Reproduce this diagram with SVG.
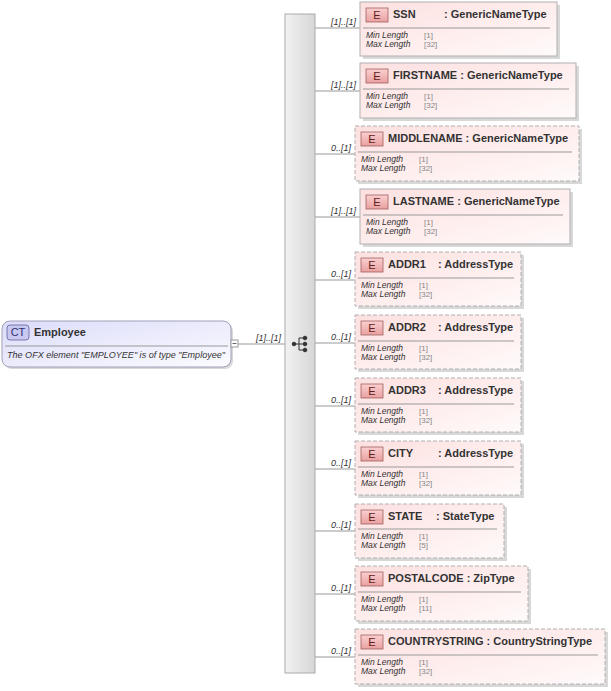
<svg xmlns="http://www.w3.org/2000/svg" width="611" height="691" viewBox="0 0 611 691">
<defs>
<linearGradient id="eg" x1="0" y1="0" x2="1" y2="1"><stop offset="0" stop-color="#fde0e0"/><stop offset="1" stop-color="#fffafa"/></linearGradient>
<linearGradient id="cg" x1="0" y1="0" x2="1" y2="1"><stop offset="0" stop-color="#dcdcfa"/><stop offset="1" stop-color="#fbfbff"/></linearGradient>
<linearGradient id="sg" x1="0" y1="0" x2="1" y2="0"><stop offset="0" stop-color="#f2f2f2"/><stop offset="1" stop-color="#d6d6d6"/></linearGradient>
<linearGradient id="bg" x1="0" y1="0" x2="0" y2="1"><stop offset="0" stop-color="#fbd0d0"/><stop offset="1" stop-color="#e9a0a0"/></linearGradient>
</defs>
<style>
.box{fill:url(#eg);stroke:#b0b0b0;stroke-width:1}
.opt{stroke-dasharray:4,2}
.sh{fill:#d8d8d8}
.badge{fill:url(#bg);stroke:#a06060;stroke-width:0.8}
.bt{font:11px "Liberation Sans",sans-serif;fill:#602020;text-anchor:middle}
.nm{font:bold 11px "Liberation Sans",sans-serif;fill:#333}
.sm{font:italic 8.5px "Liberation Sans",sans-serif;fill:#333}
.v{font:8px "Liberation Sans",sans-serif;fill:#888}
.card{font:italic 9px "Liberation Sans",sans-serif;fill:#333}
.sep{stroke:#999;stroke-width:1}
.ln{stroke:#999;stroke-width:1;fill:none}
</style>
<g id="connectors">
<line class="ln" x1="238" y1="344" x2="285" y2="344"/>
<line class="ln" x1="315" y1="28" x2="360" y2="28"/>
<line class="ln" x1="315" y1="91" x2="360" y2="91"/>
<line class="ln" x1="315" y1="154" x2="355" y2="154"/>
<line class="ln" x1="315" y1="217" x2="360" y2="217"/>
<line class="ln" x1="315" y1="280" x2="355" y2="280"/>
<line class="ln" x1="315" y1="343" x2="355" y2="343"/>
<line class="ln" x1="315" y1="406" x2="355" y2="406"/>
<line class="ln" x1="315" y1="469" x2="355" y2="469"/>
<line class="ln" x1="315" y1="531" x2="355" y2="531"/>
<line class="ln" x1="315" y1="594" x2="355" y2="594"/>
<line class="ln" x1="315" y1="657" x2="355" y2="657"/>
<text class="card" x="256" y="341">[1]..[1]</text>
<text class="card" x="331" y="25">[1]..[1]</text>
<text class="card" x="331" y="88">[1]..[1]</text>
<text class="card" x="331" y="151">0..[1]</text>
<text class="card" x="331" y="214">[1]..[1]</text>
<text class="card" x="331" y="277">0..[1]</text>
<text class="card" x="331" y="340">0..[1]</text>
<text class="card" x="331" y="403">0..[1]</text>
<text class="card" x="331" y="466">0..[1]</text>
<text class="card" x="331" y="528">0..[1]</text>
<text class="card" x="331" y="591">0..[1]</text>
<text class="card" x="331" y="654">0..[1]</text>
</g>
<g id="Employee">
<rect x="4" y="323" width="229" height="46" rx="8" class="sh"/>
<rect x="2" y="321" width="229" height="46" rx="8" fill="url(#cg)" stroke="#a0a0b8"/>
<rect x="7" y="325" width="22" height="15" rx="3" fill="#c8c8f0" stroke="#6060a0" stroke-width="0.8"/>
<text x="18" y="336" font-family="Liberation Sans,sans-serif" font-size="11" fill="#303070" text-anchor="middle">CT</text>
<text class="nm" x="34" y="336">Employee</text>
<line class="sep" x1="5" y1="346" x2="228" y2="346"/>
<text x="7" y="358" font-family="Liberation Sans,sans-serif" font-style="italic" font-size="9" fill="#333" textLength="218" lengthAdjust="spacingAndGlyphs">The OFX element "EMPLOYEE" is of type "Employee"</text>
<rect x="231" y="340" width="7" height="7" fill="#fff" stroke="#999"/>
<line x1="232.5" y1="343.5" x2="236.5" y2="343.5" stroke="#666"/>
</g>
<g id="sequence">
<rect x="285" y="14" width="30" height="659" fill="url(#sg)" stroke="#aaa"/>
<g stroke="#333" fill="#333">
<circle cx="294" cy="344" r="1.8"/>
<line x1="294" y1="344" x2="299" y2="344"/>
<line x1="299" y1="338" x2="299" y2="350"/>
<line x1="299" y1="338" x2="305" y2="338"/><line x1="299" y1="344" x2="305" y2="344"/><line x1="299" y1="350" x2="305" y2="350"/>
<circle cx="305" cy="338" r="1.8"/><circle cx="305" cy="344" r="1.8"/><circle cx="305" cy="350" r="1.8"/>
</g>
</g>
<g id="SSN"><rect class="sh" x="363" y="5" width="197" height="54"/><rect class="box" x="360" y="2" width="197" height="54"/><rect class="badge" x="366" y="8" width="22" height="14"/><text class="bt" x="377" y="19">E</text><text class="nm" x="393" y="18">SSN</text><text class="nm" x="444" y="18">: GenericNameType</text><line class="sep" x1="363" y1="28" x2="550" y2="28"/><text class="sm" x="366" y="38">Min Length</text><text class="v" x="424" y="38">[1]</text><text class="sm" x="366" y="47">Max Length</text><text class="v" x="424" y="47">[32]</text></g>
<g id="FIRSTNAME"><rect class="sh" x="363" y="66" width="216" height="55"/><rect class="box" x="360" y="63" width="216" height="55"/><rect class="badge" x="366" y="69" width="22" height="14"/><text class="bt" x="377" y="80">E</text><text class="nm" x="393" y="79">FIRSTNAME : GenericNameType</text><line class="sep" x1="363" y1="89" x2="569" y2="89"/><text class="sm" x="366" y="99">Min Length</text><text class="v" x="424" y="99">[1]</text><text class="sm" x="366" y="108">Max Length</text><text class="v" x="424" y="108">[32]</text></g>
<g id="MIDDLENAME"><rect class="sh" x="358" y="129" width="224" height="55"/><rect class="box opt" x="355" y="126" width="224" height="55"/><rect class="badge" x="361" y="132" width="22" height="14"/><text class="bt" x="372" y="143">E</text><text class="nm" x="388" y="142">MIDDLENAME : GenericNameType</text><line class="sep" x1="358" y1="152" x2="572" y2="152"/><text class="sm" x="361" y="162">Min Length</text><text class="v" x="419" y="162">[1]</text><text class="sm" x="361" y="171">Max Length</text><text class="v" x="419" y="171">[32]</text></g>
<g id="LASTNAME"><rect class="sh" x="363" y="192" width="210" height="55"/><rect class="box" x="360" y="189" width="210" height="55"/><rect class="badge" x="366" y="195" width="22" height="14"/><text class="bt" x="377" y="206">E</text><text class="nm" x="393" y="205">LASTNAME : GenericNameType</text><line class="sep" x1="363" y1="215" x2="563" y2="215"/><text class="sm" x="366" y="225">Min Length</text><text class="v" x="424" y="225">[1]</text><text class="sm" x="366" y="234">Max Length</text><text class="v" x="424" y="234">[32]</text></g>
<g id="ADDR1"><rect class="sh" x="358" y="255" width="166" height="54"/><rect class="box opt" x="355" y="252" width="166" height="54"/><rect class="badge" x="361" y="258" width="22" height="14"/><text class="bt" x="372" y="269">E</text><text class="nm" x="388" y="268">ADDR1</text><text class="nm" x="438" y="268">: AddressType</text><line class="sep" x1="358" y1="278" x2="514" y2="278"/><text class="sm" x="361" y="288">Min Length</text><text class="v" x="419" y="288">[1]</text><text class="sm" x="361" y="297">Max Length</text><text class="v" x="419" y="297">[32]</text></g>
<g id="ADDR2"><rect class="sh" x="358" y="318" width="166" height="54"/><rect class="box opt" x="355" y="315" width="166" height="54"/><rect class="badge" x="361" y="321" width="22" height="14"/><text class="bt" x="372" y="332">E</text><text class="nm" x="388" y="331">ADDR2</text><text class="nm" x="438" y="331">: AddressType</text><line class="sep" x1="358" y1="341" x2="514" y2="341"/><text class="sm" x="361" y="351">Min Length</text><text class="v" x="419" y="351">[1]</text><text class="sm" x="361" y="360">Max Length</text><text class="v" x="419" y="360">[32]</text></g>
<g id="ADDR3"><rect class="sh" x="358" y="381" width="166" height="54"/><rect class="box opt" x="355" y="378" width="166" height="54"/><rect class="badge" x="361" y="384" width="22" height="14"/><text class="bt" x="372" y="395">E</text><text class="nm" x="388" y="394">ADDR3</text><text class="nm" x="438" y="394">: AddressType</text><line class="sep" x1="358" y1="404" x2="514" y2="404"/><text class="sm" x="361" y="414">Min Length</text><text class="v" x="419" y="414">[1]</text><text class="sm" x="361" y="423">Max Length</text><text class="v" x="419" y="423">[32]</text></g>
<g id="CITY"><rect class="sh" x="358" y="444" width="166" height="54"/><rect class="box opt" x="355" y="441" width="166" height="54"/><rect class="badge" x="361" y="447" width="22" height="14"/><text class="bt" x="372" y="458">E</text><text class="nm" x="388" y="457">CITY</text><text class="nm" x="438" y="457">: AddressType</text><line class="sep" x1="358" y1="467" x2="514" y2="467"/><text class="sm" x="361" y="477">Min Length</text><text class="v" x="419" y="477">[1]</text><text class="sm" x="361" y="486">Max Length</text><text class="v" x="419" y="486">[32]</text></g>
<g id="STATE"><rect class="sh" x="358" y="507" width="149" height="54"/><rect class="box opt" x="355" y="504" width="149" height="54"/><rect class="badge" x="361" y="510" width="22" height="14"/><text class="bt" x="372" y="521">E</text><text class="nm" x="388" y="520">STATE</text><text class="nm" x="436" y="520">: StateType</text><line class="sep" x1="358" y1="529" x2="497" y2="529"/><text class="sm" x="361" y="539">Min Length</text><text class="v" x="419" y="539">[1]</text><text class="sm" x="361" y="548">Max Length</text><text class="v" x="419" y="548">[5]</text></g>
<g id="POSTALCODE"><rect class="sh" x="358" y="569" width="173" height="55"/><rect class="box opt" x="355" y="566" width="173" height="55"/><rect class="badge" x="361" y="572" width="22" height="14"/><text class="bt" x="372" y="583">E</text><text class="nm" x="388" y="582">POSTALCODE : ZipType</text><line class="sep" x1="358" y1="592" x2="521" y2="592"/><text class="sm" x="361" y="602">Min Length</text><text class="v" x="419" y="602">[1]</text><text class="sm" x="361" y="611">Max Length</text><text class="v" x="419" y="611">[11]</text></g>
<g id="COUNTRYSTRING"><rect class="sh" x="358" y="632" width="250" height="55"/><rect class="box opt" x="355" y="629" width="250" height="55"/><rect class="badge" x="361" y="635" width="22" height="14"/><text class="bt" x="372" y="646">E</text><text class="nm" x="388" y="645">COUNTRYSTRING : CountryStringType</text><line class="sep" x1="358" y1="655" x2="598" y2="655"/><text class="sm" x="361" y="665">Min Length</text><text class="v" x="419" y="665">[1]</text><text class="sm" x="361" y="674">Max Length</text><text class="v" x="419" y="674">[32]</text></g>
</svg>
